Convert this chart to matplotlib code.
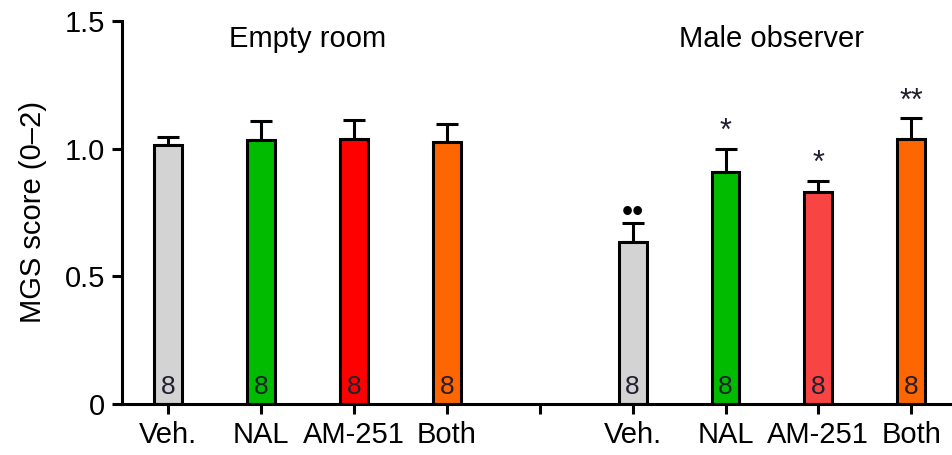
import numpy as np
import matplotlib
matplotlib.use("Agg")
import matplotlib.pyplot as plt

plt.rcParams["font.family"] = ["Liberation Sans", "DejaVu Sans"]
plt.rcParams["font.size"] = 21
plt.rcParams["axes.linewidth"] = 2.2
plt.rcParams["xtick.major.width"] = 2.2
plt.rcParams["ytick.major.width"] = 2.2

# データ
groups = ["Empty room", "Male observer"]
treatments = ["Veh.", "NAL", "AM-251", "Both"]
empty_mean = [1.015, 1.032, 1.038, 1.027]
empty_sem = [0.030, 0.078, 0.073, 0.070]
male_mean = [0.634, 0.907, 0.829, 1.039]
male_sem = [0.076, 0.093, 0.046, 0.082]
n_per_bar = [8, 8, 8, 8]
empty_colors = ["#d3d3d3", "#00bb00", "#ff0000", "#ff6600"]
male_colors = ["#d3d3d3", "#00bb00", "#f94444", "#ff6600"]
male_marks = ["••", "*", "*", "**"]

fig = plt.figure(figsize=(9.53, 4.55), dpi=100)
ax = fig.add_axes([0.128, 0.112, 0.872, 0.842])

pos_empty = np.arange(4)
pos_male = np.arange(4) + 5
width = 0.3

for pos, mean, sem, colors in [
    (pos_empty, empty_mean, empty_sem, empty_colors),
    (pos_male, male_mean, male_sem, male_colors),
]:
    ax.errorbar(pos, mean, yerr=[np.zeros(4), sem], fmt="none", ecolor="black",
                elinewidth=2.2, capsize=8, capthick=2.2, zorder=1)
    ax.bar(pos, mean, width=width, color=colors, edgecolor="black",
           linewidth=2.2, zorder=2)
    for x, n in zip(pos, n_per_bar):
        ax.text(x, 0.02, str(n), ha="center", va="bottom", fontsize=19,
                color="#202030", zorder=3)

# 有意差の記号
for x, m, s, mark in zip(pos_male, male_mean, male_sem, male_marks):
    if mark == "••":
        ax.text(x, m + s - 0.02, mark, ha="center", va="bottom", fontsize=23,
                color="black")
    else:
        ax.text(x, m + s + 0.005, mark, ha="center", va="bottom", fontsize=22,
                color="#202030")

# グループ名
ax.text(1.5, 1.43, groups[0], ha="center", va="center", fontsize=21)
ax.text(6.5, 1.43, groups[1], ha="center", va="center", fontsize=21)

ax.set_xlim(-0.5, 8.45)
ax.set_ylim(0, 1.5)
ax.set_xticks(list(pos_empty) + [4] + list(pos_male))
ax.set_xticklabels(treatments + [""] + treatments)
ax.set_yticks([0, 0.5, 1.0, 1.5])
ax.set_yticklabels(["0", "0.5", "1.0", "1.5"])
ax.tick_params(axis="both", direction="out", length=7, pad=5, labelsize=21)
ax.set_ylabel("MGS score (0–2)", fontsize=21, labelpad=13)

ax.spines["top"].set_visible(False)
ax.spines["right"].set_visible(False)

fig.savefig("out.png", dpi=100)
